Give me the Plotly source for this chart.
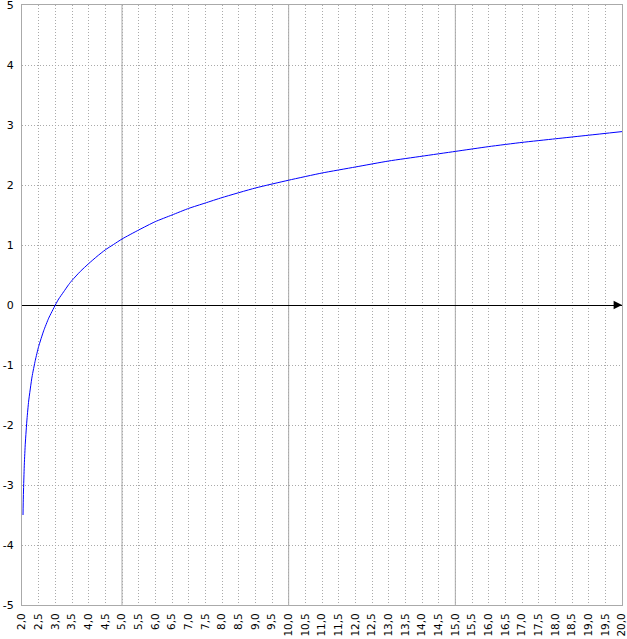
import plotly.graph_objects as go

# values
x_vals = [2.03, 2.04, 2.05, 2.07, 2.1, 2.15, 2.2, 2.3, 2.4, 2.5, 2.65, 2.8, 3.0, 3.1, 3.25, 3.4,
          3.5, 3.75, 4.0, 4.25, 4.5, 4.75, 5.0, 5.5, 6.0, 6.5, 7.0, 7.5, 8.0, 9.0, 10.0, 11.0,
          12.0, 13.0, 14.0, 15.0, 16.0, 17.0, 18.0, 19.0, 20.0]
y_vals = [-3.5, -3.2, -3.0, -2.65, -2.3, -1.9, -1.6, -1.2, -0.92, -0.69, -0.43, -0.22, 0.0, 0.10,
          0.22, 0.34, 0.41, 0.56, 0.69, 0.81, 0.92, 1.01, 1.10, 1.25, 1.39, 1.50, 1.61, 1.70,
          1.79, 1.95, 2.08, 2.20, 2.30, 2.40, 2.48, 2.56, 2.64, 2.71, 2.77, 2.83, 2.89]

x_ticks = [2 + 0.5 * i for i in range(37)]
x_tick_labels = [f"{v:.1f}".replace(".", ",") for v in x_ticks]
y_ticks = list(range(-5, 6))
y_tick_labels = [str(v) for v in y_ticks]
major_x_grid = [5, 10, 15]

fig = go.Figure()
fig.add_trace(go.Scatter(x=x_vals, y=y_vals, mode="lines", line=dict(color="#0000ff", width=1, shape="spline", smoothing=0.5), hoverinfo="skip"))

for gx in major_x_grid:
    fig.add_shape(type="line", xref="x", yref="paper", x0=gx, x1=gx, y0=0, y1=1,
                  line=dict(color="#aaaaaa", width=1), layer="below")

fig.add_annotation(x=20, y=0, ax=19.75, ay=0, xref="x", yref="y", axref="x", ayref="y",
                   showarrow=True, arrowhead=2, arrowsize=1.4, arrowwidth=1.2, arrowcolor="black", text="")

fig.update_layout(
    width=627, height=639,
    margin=dict(l=22, r=5, t=5, b=34, autoexpand=False),
    paper_bgcolor="white", plot_bgcolor="white",
    showlegend=False,
    font=dict(family="DejaVu Sans", size=11, color="black"),
    xaxis=dict(range=[2, 20], tickvals=x_ticks, ticktext=x_tick_labels, tickangle=-90,
               showgrid=True, gridcolor="#aaaaaa", gridwidth=1, griddash="1px,2px",
               zeroline=False, showline=True, linecolor="#aaaaaa", linewidth=1, mirror=True,
               ticks="", ticklabelstandoff=3, tickfont=dict(size=10.5), automargin=False,
               ticklabeloverflow="allow"),
    yaxis=dict(range=[-5, 5], tickvals=y_ticks, ticktext=y_tick_labels,
               showgrid=True, gridcolor="#aaaaaa", gridwidth=1, griddash="1px,2px",
               zeroline=True, zerolinecolor="black", zerolinewidth=1,
               showline=True, linecolor="#aaaaaa", linewidth=1, mirror=True,
               ticks="", ticklabelstandoff=5, tickfont=dict(size=11), automargin=False,
               ticklabeloverflow="allow"),
)

fig.write_html("out.html", config={"displayModeBar": False, "staticPlot": True},
               post_script="document.body.style.margin='0';document.body.style.overflow='hidden';")
